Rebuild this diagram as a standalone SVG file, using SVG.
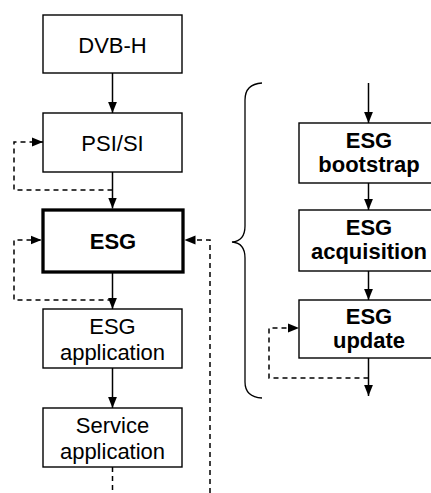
<svg xmlns="http://www.w3.org/2000/svg" width="431" height="493" viewBox="0 0 431 493">
<defs>
<style>
.box{fill:#fff;stroke:#000;stroke-width:1.4}
.thick{fill:#fff;stroke:#000;stroke-width:3.3}
.t{font-family:"Liberation Sans",Arial,sans-serif;font-size:22px;fill:#000;text-anchor:middle}
.b{font-weight:bold}
.ln{fill:none;stroke:#000;stroke-width:1.5}
.dash{fill:none;stroke:#000;stroke-width:1.5;stroke-dasharray:5,4}
</style>
<marker id="ah" viewBox="0 0 10 10" refX="10" refY="5" markerWidth="11" markerHeight="11" markerUnits="userSpaceOnUse" orient="auto">
<path d="M0,1 L10,5 L0,9 Z" fill="#000"/>
</marker>
</defs>
<g id="connectors">
<line class="ln" x1="112.5" y1="73" x2="112.5" y2="113" marker-end="url(#ah)"/>
<line class="ln" x1="112.5" y1="172" x2="112.5" y2="208.5" marker-end="url(#ah)"/>
<polyline class="dash" points="112.5,190 14,190 14,142 43,142" marker-end="url(#ah)"/>
<line class="ln" x1="112.5" y1="272" x2="112.5" y2="309" marker-end="url(#ah)"/>
<polyline class="dash" points="112.5,300 14,300 14,240 41.5,240" marker-end="url(#ah)"/>
<line class="ln" x1="112.5" y1="368" x2="112.5" y2="408" marker-end="url(#ah)"/>
<line class="dash" x1="112.5" y1="467" x2="112.5" y2="493"/>
<polyline class="dash" points="210,493 210,240 184.5,240" marker-end="url(#ah)"/>
<path class="ln" style="stroke-width:1.3" d="M262,83 Q245,84 245,100 L245,226 Q245,241 232,242 Q245,243 245,258 L245,382 Q245,397 262,398"/>
<line class="ln" x1="368.5" y1="83" x2="368.5" y2="123" marker-end="url(#ah)"/>
<line class="ln" x1="368.5" y1="183" x2="368.5" y2="210" marker-end="url(#ah)"/>
<line class="ln" x1="368.5" y1="271" x2="368.5" y2="300" marker-end="url(#ah)"/>
<line class="ln" x1="368.5" y1="358" x2="368.5" y2="396" marker-end="url(#ah)"/>
<polyline class="dash" points="368.5,378 269,378 269,328 299,328" marker-end="url(#ah)"/>
</g>
<g id="dvbh"><rect class="box" x="43" y="15" width="139" height="58"/><text class="t" x="112.5" y="52.5">DVB-H</text></g>
<g id="psisi"><rect class="box" x="43" y="113" width="139" height="59"/><text class="t" x="112.5" y="150.5">PSI/SI</text></g>
<g id="esg"><rect class="thick" x="43" y="210" width="140" height="62"/><text class="t b" x="113" y="249">ESG</text></g>
<g id="esgapp"><rect class="box" x="43" y="309" width="139" height="59"/><text class="t" x="112.5" y="333.5">ESG</text><text class="t" x="112.5" y="359.5">application</text></g>
<g id="serviceapp"><rect class="box" x="43" y="408" width="139" height="59"/><text class="t" x="112.5" y="432.5">Service</text><text class="t" x="112.5" y="458.5">application</text></g>
<g id="bootstrap"><rect class="box" x="299" y="123" width="140" height="60"/><text class="t b" x="369" y="148">ESG</text><text class="t b" x="369" y="172">bootstrap</text></g>
<g id="acquisition"><rect class="box" x="299" y="210" width="140" height="61"/><text class="t b" x="369" y="235">ESG</text><text class="t b" x="369" y="259">acquisition</text></g>
<g id="update"><rect class="box" x="299" y="300" width="140" height="58"/><text class="t b" x="369" y="324">ESG</text><text class="t b" x="369" y="348">update</text></g>
</svg>
